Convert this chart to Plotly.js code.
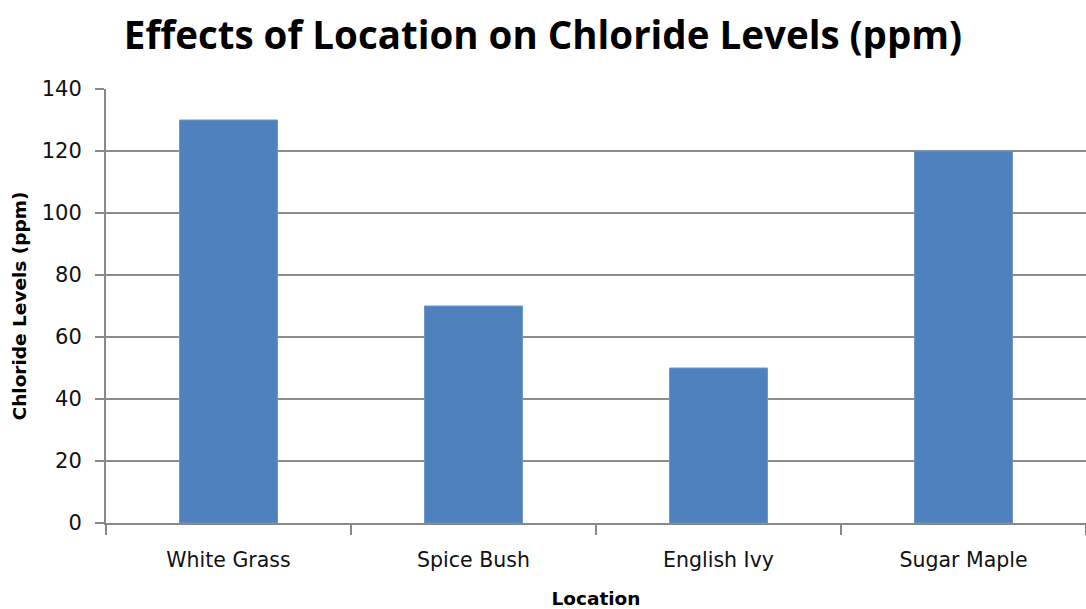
<!DOCTYPE html>
<html>
<head>
<meta charset="utf-8">
<script src="https://cdn.plot.ly/plotly-3.0.1.min.js"></script>
<style>html,body{margin:0;padding:0;background:#fff;}#chart{width:1086px;height:609px;}</style>
</head>
<body>
<div id="chart"></div>
<script>
const categories = ["White Grass", "Spice Bush", "English Ivy", "Sugar Maple"];
const chlorideValues = [130, 70, 50, 120];
const yTickValues = [0, 20, 40, 60, 80, 100, 120, 140];

const trace = {
  type: "bar",
  x: categories,
  y: chlorideValues,
  marker: {color: "#4f81bd", line: {color: "#6f97c9", width: 1}},
  hoverinfo: "x+y"
};

const layout = {
  width: 1086,
  height: 609,
  margin: {l: 106, r: 0, t: 89, b: 86},
  paper_bgcolor: "#ffffff",
  plot_bgcolor: "#ffffff",
  bargap: 0.6,
  showlegend: false,
  title: {
    text: "<b>Effects of Location on Chloride Levels (ppm)</b>",
    font: {family: "Liberation Sans Narrow, Open Sans, sans-serif", size: 38.5, color: "#000000"},
    x: 0.5, xanchor: "center", y: 0.942, yanchor: "middle"
  },
  xaxis: {
    type: "category",
    title: {text: "<b>Location</b>", font: {family: "DejaVu Sans", size: 18.5, color: "#000"}, standoff: 24},
    tickfont: {family: "DejaVu Sans", size: 20.5, color: "#111"},
    ticklabelstandoff: 17,
    showline: true, linecolor: "#888888", linewidth: 2,
    ticks: "outside", ticklen: 10, tickcolor: "#888888", tickwidth: 2,
    tickson: "boundaries",
    showgrid: false,
    zeroline: false,
    fixedrange: true
  },
  yaxis: {
    range: [0, 140],
    tickvals: yTickValues,
    ticktext: yTickValues.map(String),
    title: {text: "<b>Chloride Levels (ppm)</b>", font: {family: "DejaVu Sans", size: 18.5, color: "#000"}, standoff: 10},
    tickfont: {family: "DejaVu Sans", size: 21, color: "#111"},
    ticklabelstandoff: 9,
    showline: true, linecolor: "#888888", linewidth: 2,
    ticks: "outside", ticklen: 9, tickcolor: "#888888", tickwidth: 2,
    showgrid: true, gridcolor: "#8c8c8c", gridwidth: 1.5,
    zeroline: false,
    fixedrange: true
  }
};

Plotly.newPlot("chart", [trace], layout, {displayModeBar: false, staticPlot: true});
</script>
</body>
</html>
